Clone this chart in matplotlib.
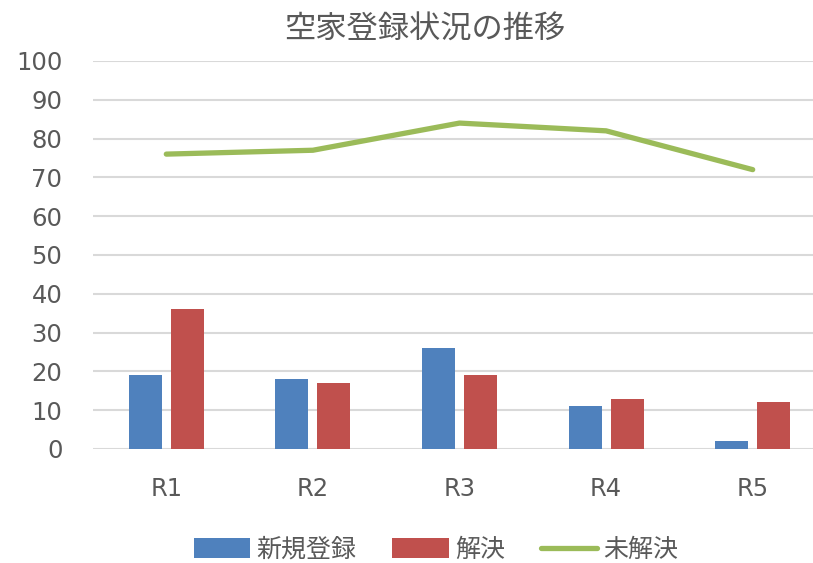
import matplotlib
matplotlib.use("Agg")
import matplotlib.pyplot as plt
import numpy as np

categories = ["R1", "R2", "R3", "R4", "R5"]
new_reg = [19, 18, 26, 11, 2]
resolved = [36, 17, 19, 13, 12]
unresolved = [76, 77, 84, 82, 72]
labels = ["新規登録", "解決", "未解決"]
title = "空家登録状況の推移"

plt.rcParams['font.family'] = ['DejaVu Sans', 'Noto Sans CJK JP']
gray = "#595959"

W, H = 813, 563
fig = plt.figure(figsize=(W/100, H/100), dpi=100)
left, right = 93, 813
bottom, top = 449, 61
ax = fig.add_axes([left/W, 1-bottom/H, (right-left)/W, (bottom-top)/H])

x = np.arange(len(categories))
bw = 0.225
off = 0.143
b1 = ax.bar(x-off, new_reg, bw, color="#4F81BD", label=labels[0], zorder=3)
b2 = ax.bar(x+off, resolved, bw, color="#C0504D", label=labels[1], zorder=3)
l1, = ax.plot(x, unresolved, color="#9BBB59", lw=3.8, label=labels[2], zorder=4, solid_capstyle='round')

ax.set_xlim(-0.5, -0.5 + (right-left)/146.6)
ax.set_ylim(0, 100)
ax.set_yticks(range(0, 101, 10))
ax.grid(axis='y', color="#D9D9D9", lw=1.5, zorder=0)
for s in ax.spines.values():
    s.set_visible(False)
ax.tick_params(axis='both', length=0, colors=gray, labelsize=17.5)
ax.tick_params(axis='y', pad=22)
ax.tick_params(axis='x', pad=20)
ax.set_xticks(x)
ax.set_xticklabels(categories)

fig.text(425/W, 1-30/H, title, ha='center', va='center', fontsize=22.5, color=gray)

fig.legend(handles=[b1, b2, l1], labels=labels, loc='center', bbox_to_anchor=(436/W, 1-550/H),
           ncol=3, frameon=False, fontsize=18, labelcolor=gray, handlelength=2.25,
           handleheight=0.85, columnspacing=1.45, handletextpad=0.25)

fig.savefig("out.png", dpi=100)
